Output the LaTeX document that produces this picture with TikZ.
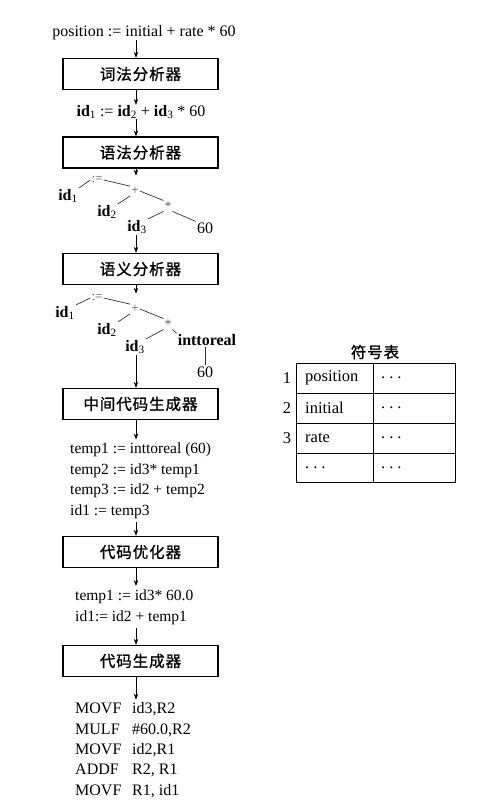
\documentclass[tikz,border=0pt]{standalone}
\usepackage{fontspec}
\setmainfont{Liberation Serif}
\newfontfamily\cjk{Noto Sans CJK SC}[FakeBold=1.2,LetterSpace=6]
\usetikzlibrary{arrows.meta}
\newcommand{\idn}[1]{\textbf{id}\textsubscript{#1}}
\begin{document}
\begin{tikzpicture}[x=1pt,y=-1pt,
  phase/.style={draw,line width=1.3pt,minimum width=155pt,minimum height=31pt,inner sep=0pt,
    font=\cjk\fontsize{15.5}{18}\selectfont},
  txt/.style={inner sep=0pt,font=\fontsize{16}{20}\selectfont},
  line/.style={inner sep=3pt,anchor=base west,font=\fontsize{15.5}{20}\selectfont},
  flow/.style={-{Stealth[length=6pt,width=4.5pt]},line width=0.8pt},
  edge/.style={line width=0.7pt,draw=black!80},
  tn/.style={inner sep=1pt,font=\fontsize{16}{18}\selectfont},
  op/.style={inner sep=1pt,text=black!65,font=\fontsize{13}{14}\selectfont},
  grid/.style={line width=1pt},
  cell/.style={inner sep=0pt,anchor=west,font=\fontsize{16.5}{18}\selectfont}
]
\useasboundingbox (0,0) rectangle (490,800);
\coordinate (spine) at (136,0);

% source statement and lexical analysis
\node[txt] (src) at (144,33) {position := initial + rate * 60};
\node[phase] (b1) at (140.5,74) {词法分析器};
\node[txt] (tok) at (141,112) {\idn{1} := \idn{2} + \idn{3} * 60};
\draw[flow] (src.south -| spine) -- (b1.north -| spine);
\draw[flow] (b1.south -| spine) -- (tok.north -| spine);

% syntax analysis and its tree
\node[phase] (b2) at (140.5,152.5) {语法分析器};
\draw[flow] (tok.south -| spine) -- (b2.north -| spine);
\node[op] (asgA) at (97,180) {:=};
\node[tn] (idA1) at (68,196) {\idn{1}};
\node[op] (plusA) at (135,191) {+};
\node[tn] (idA2) at (107,212) {\idn{2}};
\node[op] (mulA) at (168,206) {*};
\node[tn] (idA3) at (137,227) {\idn{3}};
\node[tn] (numA) at (205,228) {60};
\draw[flow] (b2.south -| spine) -- (asgA.north -| spine);
\draw[edge] (idA1.north east) -- (asgA.west);
\draw[edge] (asgA.east) -- (plusA.north west);
\draw[edge] (plusA.south west) -- (idA2.north east);
\draw[edge] (plusA.east) -- (mulA.north west);
\draw[edge] (mulA.south west) -- (idA3.north east);
\draw[edge] (mulA.south east) -- (numA.north west);

% semantic analysis and its tree
\node[phase] (b3) at (140.5,269) {语义分析器};
\draw[flow] (idA3.south -| spine) -- (b3.north -| spine);
\node[op] (asgB) at (97,298) {:=};
\node[tn] (idB1) at (65,313) {\idn{1}};
\node[op] (plusB) at (135,309) {+};
\node[tn] (idB2) at (107,330) {\idn{2}};
\node[op] (mulB) at (168,324) {*};
\node[tn] (idB3) at (135,347) {\idn{3}};
\node[tn] (itr) at (207,340) {\textbf{inttoreal}};
\node[tn] (numB) at (205,372) {60};
\draw[flow] (b3.south -| spine) -- (asgB.north -| spine);
\draw[edge] (idB1.north east) -- (asgB.west);
\draw[edge] (asgB.east) -- (plusB.north west);
\draw[edge] (plusB.south west) -- (idB2.north east);
\draw[edge] (plusB.east) -- (mulB.north west);
\draw[edge] (mulB.south west) -- (idB3.north east);
\draw[edge] (mulB.south east) -- (itr.north west);
\draw[edge] (itr.south -| numB) -- (numB.north);

% intermediate code generation
\node[phase] (b4) at (140.5,404) {中间代码生成器};
\draw[flow] (idB3.south -| spine) -- (b4.north -| spine);
\node[line] (ir1) at (67,453.5) {temp1 := inttoreal (60)};
\node[line] (ir2) at (67,474) {temp2 := id3* temp1};
\node[line] (ir3) at (67,494.5) {temp3 := id2 + temp2};
\node[line] (ir4) at (67,515) {id1 := temp3};
\draw[flow] (b4.south -| spine) -- (ir1.north -| spine);

% code optimisation
\node[phase] (b5) at (140.5,552) {代码优化器};
\draw[flow] (ir4.south -| spine) -- (b5.north -| spine);
\node[line] (opt1) at (72,600) {temp1 := id3* 60.0};
\node[line] (opt2) at (72,621) {id1:= id2 + temp1};
\draw[flow] (b5.south -| spine) -- (opt1.north -| spine);

% target code generation
\node[phase] (b6) at (140.5,661) {代码生成器};
\draw[flow] (opt2.south -| spine) -- (b6.north -| spine);
\foreach \i/\y/\mn/\arg in {1/713.5/MOVF/{id3,R2},2/734.5/MULF/{\#60.0,R2},3/754.5/MOVF/{id2,R1},4/774.5/ADDF/{R2, R1},5/795/MOVF/{R1, id1}}{
  \node[line,font=\fontsize{16}{20}\selectfont] (mn\i) at (72,\y) {\mn};
  \node[line,font=\fontsize{16}{20}\selectfont] (arg\i) at (129,\y) {\arg};
}
\draw[flow] (b6.south -| spine) -- (mn1.north -| spine);

% symbol table
\node[inner sep=0pt,font=\cjk\fontsize{15.5}{18}\selectfont] (symt) at (375,352) {符号表};
\draw[grid] (296,363) rectangle (455,482);
\draw[grid] (373,363) -- (373,482);
\draw[grid] (296,393) -- (455,393);
\draw[grid] (296,423) -- (455,423);
\draw[grid] (296,453) -- (455,453);
\foreach \n/\y in {1/378,2/408,3/438}
  \node[cell,anchor=center] at (287,\y) {\n};
\node[cell] at (305,378) {position};
\node[cell] at (305,408) {initial};
\node[cell] at (305,438) {rate};
\node[cell] at (305,468) {.\hspace{4pt}.\hspace{4pt}.};
\foreach \y in {378,408,438,468}
  \node[cell] at (381,\y) {.\hspace{4pt}.\hspace{4pt}.};
\end{tikzpicture}
\end{document}
